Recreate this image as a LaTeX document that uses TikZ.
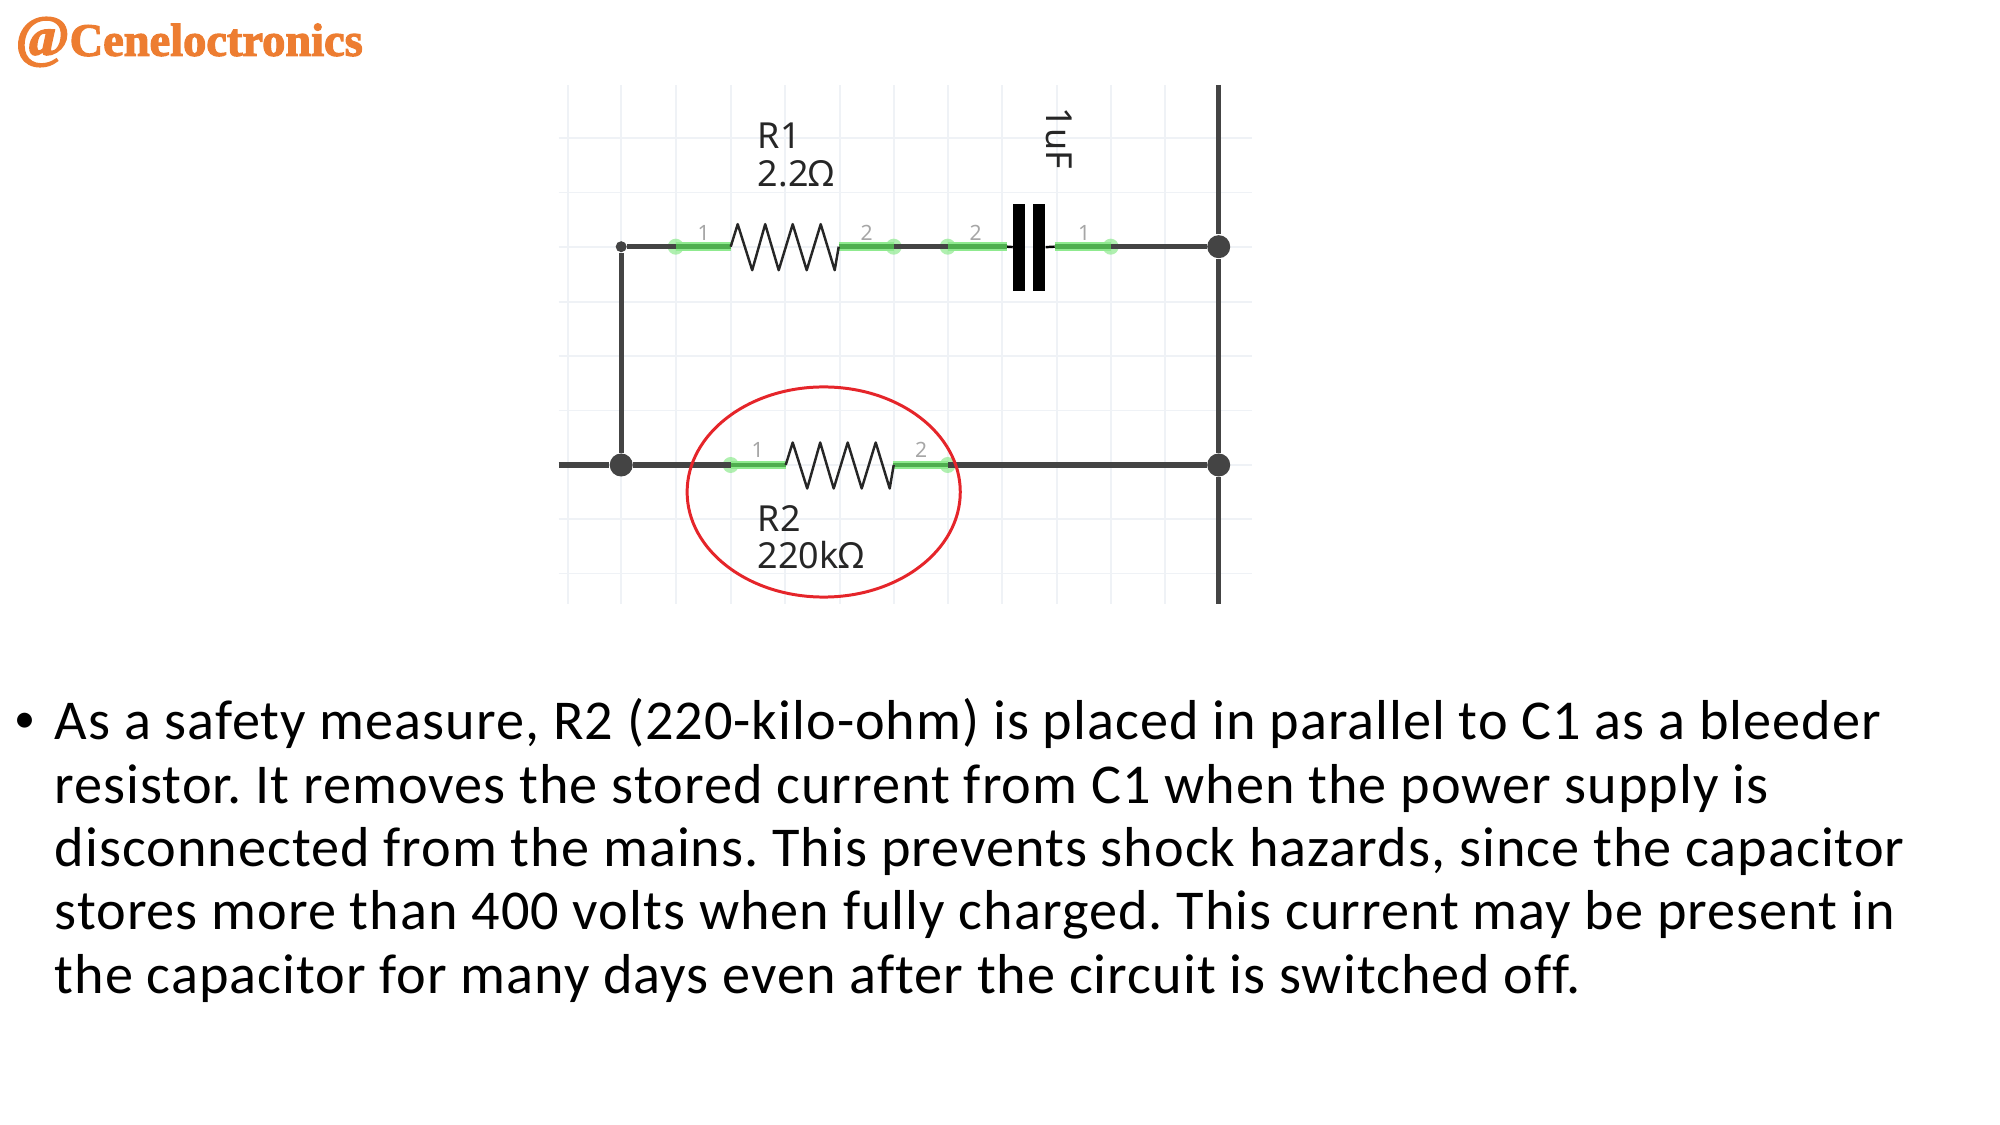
\documentclass[tikz,border=0pt]{standalone}
\usepackage{fontspec}
\setmainfont[LetterSpace=1.8,Ligatures=NoCommon]{Carlito}
\newfontfamily\labelfont{Noto Sans}
\newfontfamily\logofont[FakeBold=2.5]{Liberation Serif Bold}
\usetikzlibrary{shapes.geometric}
\definecolor{gridline}{HTML}{EFF2F6}
\definecolor{wirecol}{HTML}{444444}
\definecolor{leadcol}{HTML}{4FAE4F}
\definecolor{glowcol}{HTML}{8FEA8F}
\definecolor{ringcol}{HTML}{E5252A}
\definecolor{logocol}{HTML}{ED7D31}
\tikzset{
  grid line/.style={draw=gridline,line width=0.5pt},
  wire/.style={draw=wirecol,line width=1.45pt},
  lead/.style={draw=leadcol,line width=1.4pt,preaction={draw=glowcol,line width=2.4pt}},
  junction/.style={circle,fill=wirecol,inner sep=0pt,minimum size=0.23cm},
  small junction/.style={circle,fill=wirecol,inner sep=0pt,minimum size=0.11cm},
  pin/.style={circle,fill=glowcol,fill opacity=0.7,inner sep=0pt,minimum size=0.16cm},
  pin num/.style={font=\labelfont\fontsize{6}{7}\selectfont,text=black!35,inner sep=0pt},
  part label/.style={font=\labelfont\fontsize{10.2}{10.8}\selectfont,text=black!85,align=left,anchor=west,inner sep=0pt},
  plate/.style={fill=black,inner sep=0pt,minimum width=0.115cm,minimum height=0.87cm},
  resistor/.pic={
    \draw[black!85,line width=0.7pt,line join=round] (0,0) -- (7,-22.5) -- (21.5,23.5) -- (34.5,-22.5) -- (48,23.5) -- (62,-22.5) -- (76,23.5) -- (90,-22.5) -- (104,23.5) -- (108,0);
  }
}
\begin{document}
\frenchspacing
\begin{tikzpicture}[x=0.01cm,y=-0.01cm]
\useasboundingbox (0,0) rectangle (2000,1125);
\begin{scope}[shift={(-1.3,0)}]
% grid behind the circuit
\draw[grid line] (569,85) -- (569,604);
\draw[grid line] (622.5,85) -- (622.5,604);
\draw[grid line] (677,85) -- (677,604);
\draw[grid line] (732,85) -- (732,604);
\draw[grid line] (786,85) -- (786,604);
\draw[grid line] (841,85) -- (841,604);
\draw[grid line] (895,85) -- (895,604);
\draw[grid line] (949,85) -- (949,604);
\draw[grid line] (1003.5,85) -- (1003.5,604);
\draw[grid line] (1058,85) -- (1058,604);
\draw[grid line] (1112,85) -- (1112,604);
\draw[grid line] (1166,85) -- (1166,604);
\draw[grid line] (560,138) -- (1253,138);
\draw[grid line] (560,192.6) -- (1253,192.6);
\draw[grid line] (560,246.7) -- (1253,246.7);
\draw[grid line] (560,302) -- (1253,302);
\draw[grid line] (560,356) -- (1253,356);
\draw[grid line] (560,410.5) -- (1253,410.5);
\draw[grid line] (560,465) -- (1253,465);
\draw[grid line] (560,519) -- (1253,519);
\draw[grid line] (560,573.6) -- (1253,573.6);
% wire ends
\coordinate (railtop) at (1220,85);
\coordinate (railbot) at (1220,604);
\coordinate (inlet) at (560,465);
\coordinate (r1in) at (732,246.7);
\coordinate (r1out) at (840,246.7);
\coordinate (c1in) at (1008,246.7);
\coordinate (c1out) at (1056,246.7);
\coordinate (r2in) at (787,465);
\coordinate (r2out) at (894,465);
\node[small junction] (jtl) at (622.5,246.7) {};
\node[junction] (jbl) at (622.5,465) {};
\node[junction] (jtr) at (1220,246.7) {};
\node[junction] (jbr) at (1220,465) {};
\node[pin] (p1) at (677,246.7) {};
\node[pin] (p2) at (895,246.7) {};
\node[pin] (p3) at (949,246.7) {};
\node[pin] (p4) at (1112,246.7) {};
\node[pin] (p5) at (732,465) {};
\node[pin] (p6) at (949,465) {};
\draw[wire] (railtop) -- (jtr) -- (jbr) -- (railbot);
\draw[wire] (jtl) -- (jbl);
\draw[wire] (jtl) -- (p1.center);
\draw[wire] (p2.center) -- (p3.center);
\draw[wire] (p4.center) -- (jtr);
\draw[wire] (inlet) -- (jbl) -- (p5.center);
\draw[wire] (p6.center) -- (jbr);
% capacitor
\node[plate] (c1a) at (1020.5,247.5) {};
\node[plate] (c1b) at (1040.5,247.5) {};
\draw[black,line width=0.7pt] (c1in) -- (c1a);
\draw[black,line width=0.7pt] (c1b) -- (c1out);
% green leads
\draw[lead] (p1.center) -- (r1in);
\draw[lead] (r1out) -- (p2.center);
\draw[lead] (p3.center) -- (c1in);
\draw[lead] (c1out) -- (p4.center);
\draw[lead] (p5.center) -- (r2in);
\draw[lead] (r2out) -- (p6.center);
\pic at (r1in) {resistor};
\pic at (r2in) {resistor};
% pin numbers
\node[pin num] (n1) at (705,233) {1};
\node[pin num] (n2) at (868,233) {2};
\node[pin num] (n3) at (977,233) {2};
\node[pin num] (n4) at (1085.5,233) {1};
\node[pin num] (n5) at (759,450) {1};
\node[pin num] (n6) at (922.5,450) {2};
% part labels
\node[part label] (r1val) at (758.5,135.5) {R1};
\node[part label] (r1ohm) at (758.5,174) {2.2Ω};
\node[part label] (r2val) at (758.5,519) {R2};
\node[part label] (r2ohm) at (758.5,555) {220kΩ};
\node[part label,anchor=center,rotate=-90] (c1val) at (1060,138.5) {1uF};
% ring round R2
\node[ellipse,draw=ringcol,line width=0.85pt,inner sep=0pt,minimum width=2.73cm,minimum height=2.1cm] (ring) at (825,492) {};
\end{scope}
% logo
\node[font=\logofont\fontsize{13.2}{14}\selectfont,text=logocol,anchor=west,inner sep=0pt] (logo) at (15,42) {{\fontsize{16.5}{14}\selectfont @}Ceneloctronics};
% text under the circuit
\node[anchor=center,inner sep=0pt,font=\fontsize{12}{18}\selectfont] (dot) at (25,723) {•};
\node[anchor=north west,inner sep=0pt,align=left,font=\fontsize{16}{18}\selectfont] (body) at (54,698) {As a safety measure, R2 (220-kilo-ohm) is placed in parallel to C1 as a bleeder\\
resistor. It removes the stored current from C1 when the power supply is\\
disconnected from the mains. This prevents shock hazards, since the capacitor\\
stores more than 400 volts when fully charged. This current may be present in\\
the capacitor for many days even after the circuit is switched off.};
\end{tikzpicture}
\end{document}
